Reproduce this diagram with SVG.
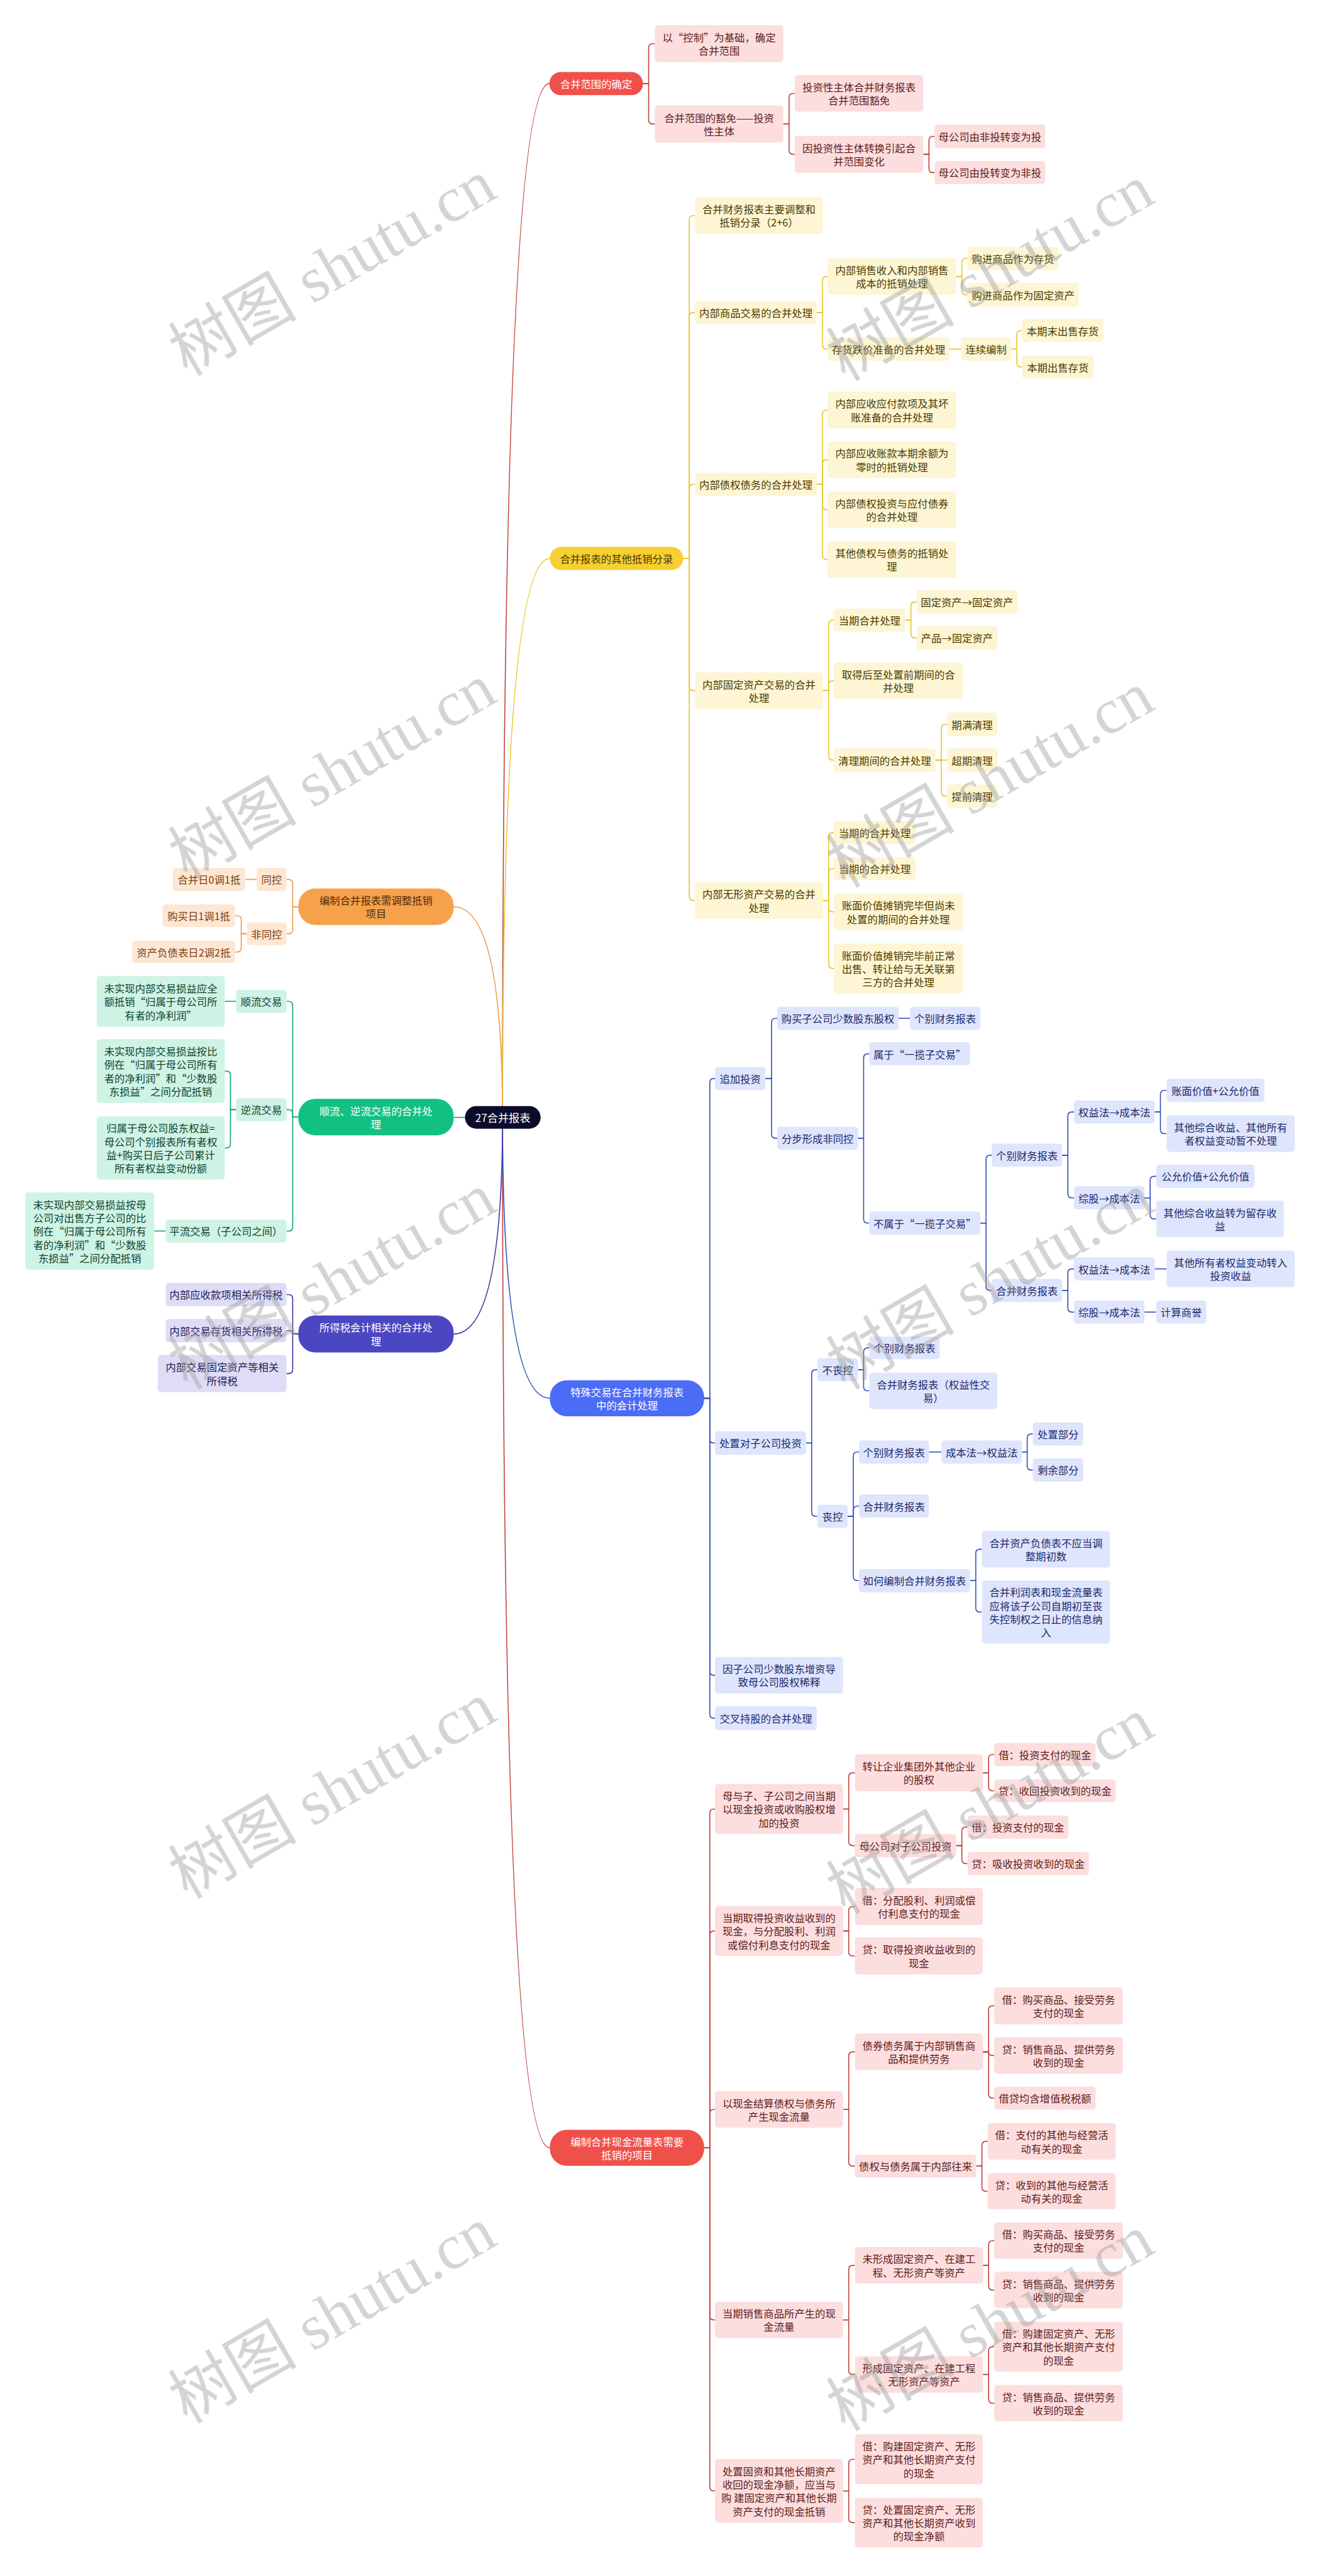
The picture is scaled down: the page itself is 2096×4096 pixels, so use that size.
<svg xmlns="http://www.w3.org/2000/svg" width="2096" height="4096" viewBox="0 0 2096 4096">
<defs>
<style>
text{font-family:"Noto Sans CJK SC","Noto Sans",sans-serif;font-size:20px;text-anchor:middle;dominant-baseline:central}
.c{fill:none;stroke-width:2}
.lr{stroke:#c2413a}.ly{stroke:#e8c62a}.lb{stroke:#3451bb}.lo{stroke:#f09a45}.lg{stroke:#12a873}.li{stroke:#3c37a3}
.rm{fill:#f0504a}.rc{fill:#fcdede}.rt{fill:#5e1c1c}
.ym{fill:#f6d032}.yc{fill:#fdf5d3}.yt{fill:#4a3a00}
.bm{fill:#4b6cf5}.bc{fill:#dfe5fc}.bt{fill:#1b2a6b}
.om{fill:#f6a24c}.oc{fill:#fde7d4}.ot{fill:#7d3f10}
.gm{fill:#12c081}.gc{fill:#cff3e4}.gt{fill:#0e4330}
.im{fill:#4b46c1}.ic{fill:#dedcf6}.it{fill:#1e1b55}
.w{fill:#ffffff}
.wm{opacity:.45}
.wm text{font-family:"Liberation Serif","Noto Sans CJK SC",serif;font-size:125px;fill:#a0a0a0}
</style>
</defs>
<rect width="2096" height="4096" fill="#ffffff"/>
<g transform="scale(0.818)">
<g id="connectors">
<g class="c lr">
<path d="M977 2172 Q977 162.5 1068 162.5"/>
<path d="M1250 162.5 H1261 V93 Q1261 85 1269 85 H1273"/>
<path d="M1250 162.5 H1261 V233 Q1261 241 1269 241 H1273"/>
<path d="M1523 241 H1534 V189.5 Q1534 181.5 1542 181.5 H1545"/>
<path d="M1523 241 H1534 V292 Q1534 300 1542 300 H1545"/>
<path d="M1795 300 H1806 V273 Q1806 265 1814 265 H1817"/>
<path d="M1795 300 H1806 V327.5 Q1806 335.5 1814 335.5 H1817"/>
<path d="M977 2172 Q977 4175 1069 4175"/>
<path d="M1369 4175 H1380 V3524.5 Q1380 3516.5 1388 3516.5 H1390"/>
<path d="M1369 4175 H1380 V3761.5 Q1380 3753.5 1388 3753.5 H1390"/>
<path d="M1369 4175 H1380 V4108.5 Q1380 4100.5 1388 4100.5 H1390"/>
<path d="M1369 4175 H1380 V4501.5 Q1380 4509.5 1388 4509.5 H1390"/>
<path d="M1369 4175 H1380 V4834 Q1380 4842 1388 4842 H1390"/>
<path d="M1639 3516.5 H1650 V3454 Q1650 3446 1658 3446 H1662"/>
<path d="M1639 3516.5 H1650 V3579.5 Q1650 3587.5 1658 3587.5 H1662"/>
<path d="M1911 3446 H1922 V3418.5 Q1922 3410.5 1930 3410.5 H1933"/>
<path d="M1911 3446 H1922 V3473 Q1922 3481 1930 3481 H1933"/>
<path d="M1859 3587.5 H1870 V3559.5 Q1870 3551.5 1878 3551.5 H1881"/>
<path d="M1859 3587.5 H1870 V3614.5 Q1870 3622.5 1878 3622.5 H1881"/>
<path d="M1639 3753.5 H1650 V3714 Q1650 3706 1658 3706 H1662"/>
<path d="M1639 3753.5 H1650 V3794 Q1650 3802 1658 3802 H1662"/>
<path d="M1639 4100.5 H1650 V3996.5 Q1650 3988.5 1658 3988.5 H1662"/>
<path d="M1639 4100.5 H1650 V4202.5 Q1650 4210.5 1658 4210.5 H1662"/>
<path d="M1911 3988.5 H1922 V3907 Q1922 3899 1930 3899 H1933"/>
<path d="M1911 3988.5 H1922 Q1922 3995.5 1929 3995.5 H1933"/>
<path d="M1911 3988.5 H1922 V4070.5 Q1922 4078.5 1930 4078.5 H1933"/>
<path d="M1898 4210.5 H1909 V4170.5 Q1909 4162.5 1917 4162.5 H1920"/>
<path d="M1898 4210.5 H1909 V4251.5 Q1909 4259.5 1917 4259.5 H1920"/>
<path d="M1639 4509.5 H1650 V4411.5 Q1650 4403.5 1658 4403.5 H1662"/>
<path d="M1639 4509.5 H1650 V4607.5 Q1650 4615.5 1658 4615.5 H1662"/>
<path d="M1911 4403.5 H1922 V4363.5 Q1922 4355.5 1930 4355.5 H1933"/>
<path d="M1911 4403.5 H1922 V4443.5 Q1922 4451.5 1930 4451.5 H1933"/>
<path d="M1911 4615.5 H1922 V4569.5 Q1922 4561.5 1930 4561.5 H1933"/>
<path d="M1911 4615.5 H1922 V4663.5 Q1922 4671.5 1930 4671.5 H1933"/>
<path d="M1639 4842 H1650 V4788.5 Q1650 4780.5 1658 4780.5 H1662"/>
<path d="M1639 4842 H1650 V4895.5 Q1650 4903.5 1658 4903.5 H1662"/>
</g>
<g class="c ly">
<path d="M977 2172 Q977 1085.5 1069 1085.5"/>
<path d="M1328 1085.5 H1340 V427 Q1340 419 1348 419 H1351"/>
<path d="M1328 1085.5 H1340 V615.5 Q1340 607.5 1348 607.5 H1351"/>
<path d="M1328 1085.5 H1340 V949.5 Q1340 941.5 1348 941.5 H1351"/>
<path d="M1328 1085.5 H1340 V1334.5 Q1340 1342.5 1348 1342.5 H1351"/>
<path d="M1328 1085.5 H1340 V1742.5 Q1340 1750.5 1348 1750.5 H1351"/>
<path d="M1588 607.5 H1599 V545.5 Q1599 537.5 1607 537.5 H1609"/>
<path d="M1588 607.5 H1599 V670.5 Q1599 678.5 1607 678.5 H1609"/>
<path d="M1859 537.5 H1870 V510.5 Q1870 502.5 1878 502.5 H1881"/>
<path d="M1859 537.5 H1870 V565 Q1870 573 1878 573 H1881"/>
<path d="M1846 678.5 H1868"/>
<path d="M1966 678.5 H1977 V650.5 Q1977 642.5 1985 642.5 H1987"/>
<path d="M1966 678.5 H1977 V705.5 Q1977 713.5 1985 713.5 H1987"/>
<path d="M1588 941.5 H1599 V805 Q1599 797 1607 797 H1609"/>
<path d="M1588 941.5 H1599 V901.5 Q1599 893.5 1607 893.5 H1609"/>
<path d="M1588 941.5 H1599 V982.5 Q1599 990.5 1607 990.5 H1609"/>
<path d="M1588 941.5 H1599 V1079.5 Q1599 1087.5 1607 1087.5 H1609"/>
<path d="M1600 1342.5 H1611 V1213.5 Q1611 1205.5 1619 1205.5 H1621"/>
<path d="M1600 1342.5 H1611 V1331.5 Q1611 1323.5 1619 1323.5 H1621"/>
<path d="M1600 1342.5 H1611 V1469.5 Q1611 1477.5 1619 1477.5 H1621"/>
<path d="M1760 1205.5 H1771 V1178 Q1771 1170 1779 1170 H1782"/>
<path d="M1760 1205.5 H1771 V1232 Q1771 1240 1779 1240 H1782"/>
<path d="M1819 1477.5 H1830 V1416 Q1830 1408 1838 1408 H1841"/>
<path d="M1819 1477.5 H1841"/>
<path d="M1819 1477.5 H1830 V1539.5 Q1830 1547.5 1838 1547.5 H1841"/>
<path d="M1600 1750.5 H1611 V1626.5 Q1611 1618.5 1619 1618.5 H1621"/>
<path d="M1600 1750.5 H1611 V1696.5 Q1611 1688.5 1619 1688.5 H1621"/>
<path d="M1600 1750.5 H1611 V1764.5 Q1611 1772.5 1619 1772.5 H1621"/>
<path d="M1600 1750.5 H1611 V1874.5 Q1611 1882.5 1619 1882.5 H1621"/>
</g>
<g class="c lb">
<path d="M977 2172 Q977 2718 1069 2718"/>
<path d="M1369 2718 H1380 V2104.5 Q1380 2096.5 1388 2096.5 H1390"/>
<path d="M1369 2718 H1380 V2797 Q1380 2805 1388 2805 H1390"/>
<path d="M1369 2718 H1380 V3248.5 Q1380 3256.5 1388 3256.5 H1390"/>
<path d="M1369 2718 H1380 V3332 Q1380 3340 1388 3340 H1390"/>
<path d="M1488 2096.5 H1500 V1987.5 Q1500 1979.5 1508 1979.5 H1511"/>
<path d="M1488 2096.5 H1500 V2204.5 Q1500 2212.5 1508 2212.5 H1511"/>
<path d="M1747 1979.5 H1769"/>
<path d="M1668 2212.5 H1679 V2056.5 Q1679 2048.5 1687 2048.5 H1690"/>
<path d="M1668 2212.5 H1679 V2369.5 Q1679 2377.5 1687 2377.5 H1690"/>
<path d="M1906 2377.5 H1917 V2253.5 Q1917 2245.5 1925 2245.5 H1928"/>
<path d="M1906 2377.5 H1917 V2500.5 Q1917 2508.5 1925 2508.5 H1928"/>
<path d="M2065 2245.5 H2076 V2169.5 Q2076 2161.5 2084 2161.5 H2088"/>
<path d="M2065 2245.5 H2076 V2320.5 Q2076 2328.5 2084 2328.5 H2088"/>
<path d="M2245 2161.5 H2256 V2127.5 Q2256 2119.5 2264 2119.5 H2268"/>
<path d="M2245 2161.5 H2256 V2195.5 Q2256 2203.5 2264 2203.5 H2268"/>
<path d="M2225 2328.5 H2236 V2294.5 Q2236 2286.5 2244 2286.5 H2248"/>
<path d="M2225 2328.5 H2236 V2361.5 Q2236 2369.5 2244 2369.5 H2248"/>
<path d="M2065 2508.5 H2076 V2474.5 Q2076 2466.5 2084 2466.5 H2088"/>
<path d="M2065 2508.5 H2076 V2542.5 Q2076 2550.5 2084 2550.5 H2088"/>
<path d="M2245 2466.5 H2268"/>
<path d="M2225 2550.5 H2248"/>
<path d="M1567 2805 H1578 V2670.5 Q1578 2662.5 1586 2662.5 H1589"/>
<path d="M1567 2805 H1578 V2939.5 Q1578 2947.5 1586 2947.5 H1589"/>
<path d="M1668 2662.5 H1679 V2628 Q1679 2620 1687 2620 H1690"/>
<path d="M1668 2662.5 H1679 V2695.5 Q1679 2703.5 1687 2703.5 H1690"/>
<path d="M1648 2947.5 H1659 V2830.5 Q1659 2822.5 1667 2822.5 H1670"/>
<path d="M1648 2947.5 H1659 V2935.5 Q1659 2927.5 1667 2927.5 H1670"/>
<path d="M1648 2947.5 H1659 V3064.5 Q1659 3072.5 1667 3072.5 H1670"/>
<path d="M1806 2822.5 H1830"/>
<path d="M1987 2822.5 H1997 V2795.5 Q1997 2787.5 2005 2787.5 H2008"/>
<path d="M1987 2822.5 H1997 V2849.5 Q1997 2857.5 2005 2857.5 H2008"/>
<path d="M1886 3072.5 H1897 V3019.5 Q1897 3011.5 1905 3011.5 H1909"/>
<path d="M1886 3072.5 H1897 V3125.5 Q1897 3133.5 1905 3133.5 H1909"/>
</g>
<g class="c lo">
<path d="M977 2172 Q977 1762.5 882 1762.5"/>
<path d="M580 1762.5 H569 V1717.5 Q569 1709.5 561 1709.5 H557"/>
<path d="M580 1762.5 H569 V1807 Q569 1815 561 1815 H557"/>
<path d="M499 1709.5 H477"/>
<path d="M480 1815 H469 V1788 Q469 1780 461 1780 H457"/>
<path d="M480 1815 H469 V1842.5 Q469 1850.5 461 1850.5 H457"/>
</g>
<g class="c lg">
<path d="M904 2172 H882"/>
<path d="M580 2171.5 H569 V1954.5 Q569 1946.5 561 1946.5 H557"/>
<path d="M580 2171.5 H569 V2165 Q569 2157 561 2157 H557"/>
<path d="M580 2171.5 H569 V2385 Q569 2393 561 2393 H557"/>
<path d="M459 1946.5 H437"/>
<path d="M459 2157 H448 V2090 Q448 2082 440 2082 H437"/>
<path d="M459 2157 H448 V2223.5 Q448 2231.5 440 2231.5 H437"/>
<path d="M322 2393 H300"/>
</g>
<g class="c li">
<path d="M977 2172 Q977 2593 882 2593"/>
<path d="M580 2593 H569 V2524.5 Q569 2516.5 561 2516.5 H557"/>
<path d="M580 2593 H569 Q569 2586.5 562.5 2586.5 H557"/>
<path d="M580 2593 H569 V2662 Q569 2670 561 2670 H557"/>
</g>
</g>

<g id="root"><rect x="904" y="2150" width="147" height="44" rx="22" fill="#0b0b2b"/><text x="977.5" y="2172" class="w" style="font-size:21px">27合并报表</text></g>

<g id="a0"><rect x="1068" y="140" width="182" height="45" rx="22" class="rm"/><text x="1159" y="162.5" class="w">合并范围的确定</text></g>
<g id="a1"><rect x="1273" y="49" width="250" height="72" rx="6" class="rc"/><text x="1398" y="72" class="rt"><tspan x="1398">以“控制”为基础，确定</tspan><tspan x="1398" dy="26">合并范围</tspan></text></g>
<g id="a2"><rect x="1273" y="205" width="250" height="72" rx="6" class="rc"/><text x="1398" y="228" class="rt"><tspan x="1398">合并范围的豁免——投资</tspan><tspan x="1398" dy="26">性主体</tspan></text></g>
<g id="a21"><rect x="1545" y="146" width="250" height="71" rx="6" class="rc"/><text x="1670" y="168.5" class="rt"><tspan x="1670">投资性主体合并财务报表</tspan><tspan x="1670" dy="26">合并范围豁免</tspan></text></g>
<g id="a22"><rect x="1545" y="264" width="250" height="72" rx="6" class="rc"/><text x="1670" y="287" class="rt"><tspan x="1670">因投资性主体转换引起合</tspan><tspan x="1670" dy="26">并范围变化</tspan></text></g>
<g id="a221"><rect x="1817" y="242" width="215" height="46" rx="6" class="rc"/><text x="1924.5" y="265" class="rt">母公司由非投转变为投</text></g>
<g id="a222"><rect x="1817" y="313" width="215" height="45" rx="6" class="rc"/><text x="1924.5" y="335.5" class="rt">母公司由投转变为非投</text></g>

<g id="b0"><rect x="1069" y="1063" width="259" height="45" rx="22" class="ym"/><text x="1198.5" y="1085.5" class="yt">合并报表的其他抵销分录</text></g>
<g id="b1"><rect x="1351" y="383" width="249" height="72" rx="6" class="yc"/><text x="1475.5" y="406" class="yt"><tspan x="1475.5">合并财务报表主要调整和</tspan><tspan x="1475.5" dy="26">抵销分录（2+6）</tspan></text></g>
<g id="b2"><rect x="1351" y="585" width="237" height="45" rx="6" class="yc"/><text x="1469.5" y="607.5" class="yt">内部商品交易的合并处理</text></g>
<g id="b21"><rect x="1609" y="502" width="250" height="71" rx="6" class="yc"/><text x="1734" y="524.5" class="yt"><tspan x="1734">内部销售收入和内部销售</tspan><tspan x="1734" dy="26">成本的抵销处理</tspan></text></g>
<g id="b211"><rect x="1881" y="480" width="177" height="45" rx="6" class="yc"/><text x="1969.5" y="502.5" class="yt">购进商品作为存货</text></g>
<g id="b212"><rect x="1881" y="550" width="216" height="46" rx="6" class="yc"/><text x="1989" y="573" class="yt">购进商品作为固定资产</text></g>
<g id="b22"><rect x="1609" y="656" width="237" height="45" rx="6" class="yc"/><text x="1727.5" y="678.5" class="yt">存货跌价准备的合并处理</text></g>
<g id="b221"><rect x="1868" y="656" width="98" height="45" rx="6" class="yc"/><text x="1917" y="678.5" class="yt">连续编制</text></g>
<g id="b2211"><rect x="1987" y="620" width="158" height="45" rx="6" class="yc"/><text x="2066" y="642.5" class="yt">本期末出售存货</text></g>
<g id="b2212"><rect x="1987" y="691" width="139" height="45" rx="6" class="yc"/><text x="2056.5" y="713.5" class="yt">本期出售存货</text></g>
<g id="b3"><rect x="1351" y="919" width="237" height="45" rx="6" class="yc"/><text x="1469.5" y="941.5" class="yt">内部债权债务的合并处理</text></g>
<g id="b31"><rect x="1609" y="761" width="250" height="72" rx="6" class="yc"/><text x="1734" y="784" class="yt"><tspan x="1734">内部应收应付款项及其坏</tspan><tspan x="1734" dy="26">账准备的合并处理</tspan></text></g>
<g id="b32"><rect x="1609" y="858" width="250" height="71" rx="6" class="yc"/><text x="1734" y="880.5" class="yt"><tspan x="1734">内部应收账款本期余额为</tspan><tspan x="1734" dy="26">零时的抵销处理</tspan></text></g>
<g id="b33"><rect x="1609" y="955" width="250" height="71" rx="6" class="yc"/><text x="1734" y="977.5" class="yt"><tspan x="1734">内部债权投资与应付债券</tspan><tspan x="1734" dy="26">的合并处理</tspan></text></g>
<g id="b34"><rect x="1609" y="1052" width="250" height="71" rx="6" class="yc"/><text x="1734" y="1074.5" class="yt"><tspan x="1734">其他债权与债务的抵销处</tspan><tspan x="1734" dy="26">理</tspan></text></g>
<g id="b4"><rect x="1351" y="1307" width="249" height="71" rx="6" class="yc"/><text x="1475.5" y="1329.5" class="yt"><tspan x="1475.5">内部固定资产交易的合并</tspan><tspan x="1475.5" dy="26">处理</tspan></text></g>
<g id="b41"><rect x="1621" y="1183" width="139" height="45" rx="6" class="yc"/><text x="1690.5" y="1205.5" class="yt">当期合并处理</text></g>
<g id="b411"><rect x="1782" y="1147" width="196" height="46" rx="6" class="yc"/><text x="1880" y="1170" class="yt">固定资产→固定资产</text></g>
<g id="b412"><rect x="1782" y="1217" width="157" height="46" rx="6" class="yc"/><text x="1860.5" y="1240" class="yt">产品→固定资产</text></g>
<g id="b42"><rect x="1621" y="1288" width="251" height="71" rx="6" class="yc"/><text x="1746.5" y="1310.5" class="yt"><tspan x="1746.5">取得后至处置前期间的合</tspan><tspan x="1746.5" dy="26">并处理</tspan></text></g>
<g id="b43"><rect x="1621" y="1455" width="198" height="45" rx="6" class="yc"/><text x="1720" y="1477.5" class="yt">清理期间的合并处理</text></g>
<g id="b431"><rect x="1841" y="1385" width="98" height="46" rx="6" class="yc"/><text x="1890" y="1408" class="yt">期满清理</text></g>
<g id="b432"><rect x="1841" y="1455" width="98" height="45" rx="6" class="yc"/><text x="1890" y="1477.5" class="yt">超期清理</text></g>
<g id="b433"><rect x="1841" y="1525" width="98" height="45" rx="6" class="yc"/><text x="1890" y="1547.5" class="yt">提前清理</text></g>
<g id="b5"><rect x="1351" y="1715" width="249" height="71" rx="6" class="yc"/><text x="1475.5" y="1737.5" class="yt"><tspan x="1475.5">内部无形资产交易的合并</tspan><tspan x="1475.5" dy="26">处理</tspan></text></g>
<g id="b51"><rect x="1621" y="1596" width="159" height="45" rx="6" class="yc"/><text x="1700.5" y="1618.5" class="yt">当期的合并处理</text></g>
<g id="b52"><rect x="1621" y="1666" width="159" height="45" rx="6" class="yc"/><text x="1700.5" y="1688.5" class="yt">当期的合并处理</text></g>
<g id="b53"><rect x="1621" y="1737" width="251" height="71" rx="6" class="yc"/><text x="1746.5" y="1759.5" class="yt"><tspan x="1746.5">账面价值摊销完毕但尚未</tspan><tspan x="1746.5" dy="26">处置的期间的合并处理</tspan></text></g>
<g id="b54"><rect x="1621" y="1834" width="251" height="97" rx="6" class="yc"/><text x="1746.5" y="1856.5" class="yt"><tspan x="1746.5">账面价值摊销完毕前正常</tspan><tspan x="1746.5" dy="26">出售、转让给与无关联第</tspan><tspan x="1746.5" dy="26">三方的合并处理</tspan></text></g>

<g id="c0"><rect x="1069" y="2683" width="300" height="70" rx="33" class="bm"/><text x="1219" y="2705" class="w"><tspan x="1219">特殊交易在合并财务报表</tspan><tspan x="1219" dy="26">中的会计处理</tspan></text></g>
<g id="c1"><rect x="1390" y="2074" width="98" height="45" rx="6" class="bc"/><text x="1439" y="2096.5" class="bt">追加投资</text></g>
<g id="c11"><rect x="1511" y="1957" width="236" height="45" rx="6" class="bc"/><text x="1629" y="1979.5" class="bt">购买子公司少数股东股权</text></g>
<g id="c111"><rect x="1769" y="1957" width="137" height="45" rx="6" class="bc"/><text x="1837.5" y="1979.5" class="bt">个别财务报表</text></g>
<g id="c12"><rect x="1511" y="2190" width="157" height="45" rx="6" class="bc"/><text x="1589.5" y="2212.5" class="bt">分步形成非同控</text></g>
<g id="c121"><rect x="1690" y="2026" width="196" height="45" rx="6" class="bc"/><text x="1788" y="2048.5" class="bt">属于“一揽子交易”</text></g>
<g id="c122"><rect x="1690" y="2355" width="216" height="45" rx="6" class="bc"/><text x="1798" y="2377.5" class="bt">不属于“一揽子交易”</text></g>
<g id="c1221"><rect x="1928" y="2223" width="137" height="45" rx="6" class="bc"/><text x="1996.5" y="2245.5" class="bt">个别财务报表</text></g>
<g id="c12211"><rect x="2088" y="2139" width="157" height="45" rx="6" class="bc"/><text x="2166.5" y="2161.5" class="bt">权益法→成本法</text></g>
<g id="c122111"><rect x="2268" y="2097" width="190" height="45" rx="6" class="bc"/><text x="2363" y="2119.5" class="bt">账面价值+公允价值</text></g>
<g id="c122112"><rect x="2268" y="2168" width="249" height="71" rx="6" class="bc"/><text x="2392.5" y="2190.5" class="bt"><tspan x="2392.5">其他综合收益、其他所有</tspan><tspan x="2392.5" dy="26">者权益变动暂不处理</tspan></text></g>
<g id="c12212"><rect x="2088" y="2306" width="137" height="45" rx="6" class="bc"/><text x="2156.5" y="2328.5" class="bt">综股→成本法</text></g>
<g id="c122121"><rect x="2248" y="2264" width="191" height="45" rx="6" class="bc"/><text x="2343.5" y="2286.5" class="bt">公允价值+公允价值</text></g>
<g id="c122122"><rect x="2248" y="2334" width="248" height="71" rx="6" class="bc"/><text x="2372" y="2356.5" class="bt"><tspan x="2372">其他综合收益转为留存收</tspan><tspan x="2372" dy="26">益</tspan></text></g>
<g id="c1222"><rect x="1928" y="2486" width="137" height="45" rx="6" class="bc"/><text x="1996.5" y="2508.5" class="bt">合并财务报表</text></g>
<g id="c12221"><rect x="2088" y="2444" width="157" height="45" rx="6" class="bc"/><text x="2166.5" y="2466.5" class="bt">权益法→成本法</text></g>
<g id="c122211"><rect x="2268" y="2431" width="249" height="71" rx="6" class="bc"/><text x="2392.5" y="2453.5" class="bt"><tspan x="2392.5">其他所有者权益变动转入</tspan><tspan x="2392.5" dy="26">投资收益</tspan></text></g>
<g id="c12222"><rect x="2088" y="2528" width="137" height="45" rx="6" class="bc"/><text x="2156.5" y="2550.5" class="bt">综股→成本法</text></g>
<g id="c122221"><rect x="2248" y="2528" width="97" height="45" rx="6" class="bc"/><text x="2296.5" y="2550.5" class="bt">计算商誉</text></g>
<g id="c2"><rect x="1390" y="2782" width="177" height="46" rx="6" class="bc"/><text x="1478.5" y="2805" class="bt">处置对子公司投资</text></g>
<g id="c21"><rect x="1589" y="2640" width="79" height="45" rx="6" class="bc"/><text x="1628.5" y="2662.5" class="bt">不丧控</text></g>
<g id="c211"><rect x="1690" y="2598" width="137" height="44" rx="6" class="bc"/><text x="1758.5" y="2620" class="bt">个别财务报表</text></g>
<g id="c212"><rect x="1690" y="2668" width="249" height="71" rx="6" class="bc"/><text x="1814.5" y="2690.5" class="bt"><tspan x="1814.5">合并财务报表（权益性交</tspan><tspan x="1814.5" dy="26">易）</tspan></text></g>
<g id="c22"><rect x="1589" y="2925" width="59" height="45" rx="6" class="bc"/><text x="1618.5" y="2947.5" class="bt">丧控</text></g>
<g id="c221"><rect x="1670" y="2800" width="136" height="45" rx="6" class="bc"/><text x="1738" y="2822.5" class="bt">个别财务报表</text></g>
<g id="c2211"><rect x="1830" y="2800" width="157" height="45" rx="6" class="bc"/><text x="1908.5" y="2822.5" class="bt">成本法→权益法</text></g>
<g id="c22111"><rect x="2008" y="2765" width="98" height="45" rx="6" class="bc"/><text x="2057" y="2787.5" class="bt">处置部分</text></g>
<g id="c22112"><rect x="2008" y="2835" width="98" height="45" rx="6" class="bc"/><text x="2057" y="2857.5" class="bt">剩余部分</text></g>
<g id="c222"><rect x="1670" y="2905" width="136" height="45" rx="6" class="bc"/><text x="1738" y="2927.5" class="bt">合并财务报表</text></g>
<g id="c223"><rect x="1670" y="3050" width="216" height="45" rx="6" class="bc"/><text x="1778" y="3072.5" class="bt">如何编制合并财务报表</text></g>
<g id="c2231"><rect x="1909" y="2976" width="249" height="71" rx="6" class="bc"/><text x="2033.5" y="2998.5" class="bt"><tspan x="2033.5">合并资产负债表不应当调</tspan><tspan x="2033.5" dy="26">整期初数</tspan></text></g>
<g id="c2232"><rect x="1909" y="3072" width="249" height="123" rx="6" class="bc"/><text x="2033.5" y="3094.5" class="bt"><tspan x="2033.5">合并利润表和现金流量表</tspan><tspan x="2033.5" dy="26">应将该子公司自期初至丧</tspan><tspan x="2033.5" dy="26">失控制权之日止的信息纳</tspan><tspan x="2033.5" dy="26">入</tspan></text></g>
<g id="c3"><rect x="1390" y="3221" width="249" height="71" rx="6" class="bc"/><text x="1514.5" y="3243.5" class="bt"><tspan x="1514.5">因子公司少数股东增资导</tspan><tspan x="1514.5" dy="26">致母公司股权稀释</tspan></text></g>
<g id="c4"><rect x="1390" y="3317" width="198" height="46" rx="6" class="bc"/><text x="1489" y="3340" class="bt">交叉持股的合并处理</text></g>

<g id="d0"><rect x="1069" y="4140" width="300" height="70" rx="33" class="rm"/><text x="1219" y="4162" class="w"><tspan x="1219">编制合并现金流量表需要</tspan><tspan x="1219" dy="26">抵销的项目</tspan></text></g>
<g id="d1"><rect x="1390" y="3468" width="249" height="97" rx="6" class="rc"/><text x="1514.5" y="3490.5" class="rt"><tspan x="1514.5">母与子、子公司之间当期</tspan><tspan x="1514.5" dy="26">以现金投资或收购股权增</tspan><tspan x="1514.5" dy="26">加的投资</tspan></text></g>
<g id="d11"><rect x="1662" y="3410" width="249" height="72" rx="6" class="rc"/><text x="1786.5" y="3433" class="rt"><tspan x="1786.5">转让企业集团外其他企业</tspan><tspan x="1786.5" dy="26">的股权</tspan></text></g>
<g id="d111"><rect x="1933" y="3388" width="197" height="45" rx="6" class="rc"/><text x="2031.5" y="3410.5" class="rt">借：投资支付的现金</text></g>
<g id="d112"><rect x="1933" y="3459" width="236" height="44" rx="6" class="rc"/><text x="2051" y="3481" class="rt">贷：收回投资收到的现金</text></g>
<g id="d12"><rect x="1662" y="3565" width="197" height="45" rx="6" class="rc"/><text x="1760.5" y="3587.5" class="rt">母公司对子公司投资</text></g>
<g id="d121"><rect x="1881" y="3529" width="196" height="45" rx="6" class="rc"/><text x="1979" y="3551.5" class="rt">借：投资支付的现金</text></g>
<g id="d122"><rect x="1881" y="3600" width="236" height="45" rx="6" class="rc"/><text x="1999" y="3622.5" class="rt">贷：吸收投资收到的现金</text></g>
<g id="d2"><rect x="1390" y="3705" width="249" height="97" rx="6" class="rc"/><text x="1514.5" y="3727.5" class="rt"><tspan x="1514.5">当期取得投资收益收到的</tspan><tspan x="1514.5" dy="26">现金，与分配股利、利润</tspan><tspan x="1514.5" dy="26">或偿付利息支付的现金</tspan></text></g>
<g id="d21"><rect x="1662" y="3670" width="249" height="72" rx="6" class="rc"/><text x="1786.5" y="3693" class="rt"><tspan x="1786.5">借：分配股利、利润或偿</tspan><tspan x="1786.5" dy="26">付利息支付的现金</tspan></text></g>
<g id="d22"><rect x="1662" y="3766" width="249" height="72" rx="6" class="rc"/><text x="1786.5" y="3789" class="rt"><tspan x="1786.5">贷：取得投资收益收到的</tspan><tspan x="1786.5" dy="26">现金</tspan></text></g>
<g id="d3"><rect x="1390" y="4065" width="249" height="71" rx="6" class="rc"/><text x="1514.5" y="4087.5" class="rt"><tspan x="1514.5">以现金结算债权与债务所</tspan><tspan x="1514.5" dy="26">产生现金流量</tspan></text></g>
<g id="d31"><rect x="1662" y="3953" width="249" height="71" rx="6" class="rc"/><text x="1786.5" y="3975.5" class="rt"><tspan x="1786.5">债券债务属于内部销售商</tspan><tspan x="1786.5" dy="26">品和提供劳务</tspan></text></g>
<g id="d311"><rect x="1933" y="3863" width="250" height="72" rx="6" class="rc"/><text x="2058" y="3886" class="rt"><tspan x="2058">借：购买商品、接受劳务</tspan><tspan x="2058" dy="26">支付的现金</tspan></text></g>
<g id="d312"><rect x="1933" y="3960" width="250" height="71" rx="6" class="rc"/><text x="2058" y="3982.5" class="rt"><tspan x="2058">贷：销售商品、提供劳务</tspan><tspan x="2058" dy="26">收到的现金</tspan></text></g>
<g id="d313"><rect x="1933" y="4056" width="197" height="45" rx="6" class="rc"/><text x="2031.5" y="4078.5" class="rt">借贷均含增值税税额</text></g>
<g id="d32"><rect x="1662" y="4188" width="236" height="45" rx="6" class="rc"/><text x="1780" y="4210.5" class="rt">债权与债务属于内部往来</text></g>
<g id="d321"><rect x="1920" y="4127" width="249" height="71" rx="6" class="rc"/><text x="2044.5" y="4149.5" class="rt"><tspan x="2044.5">借：支付的其他与经营活</tspan><tspan x="2044.5" dy="26">动有关的现金</tspan></text></g>
<g id="d322"><rect x="1920" y="4224" width="249" height="71" rx="6" class="rc"/><text x="2044.5" y="4246.5" class="rt"><tspan x="2044.5">贷：收到的其他与经营活</tspan><tspan x="2044.5" dy="26">动有关的现金</tspan></text></g>
<g id="d4"><rect x="1390" y="4474" width="249" height="71" rx="6" class="rc"/><text x="1514.5" y="4496.5" class="rt"><tspan x="1514.5">当期销售商品所产生的现</tspan><tspan x="1514.5" dy="26">金流量</tspan></text></g>
<g id="d41"><rect x="1662" y="4368" width="249" height="71" rx="6" class="rc"/><text x="1786.5" y="4390.5" class="rt"><tspan x="1786.5">未形成固定资产、在建工</tspan><tspan x="1786.5" dy="26">程、无形资产等资产</tspan></text></g>
<g id="d411"><rect x="1933" y="4320" width="250" height="71" rx="6" class="rc"/><text x="2058" y="4342.5" class="rt"><tspan x="2058">借：购买商品、接受劳务</tspan><tspan x="2058" dy="26">支付的现金</tspan></text></g>
<g id="d412"><rect x="1933" y="4416" width="250" height="71" rx="6" class="rc"/><text x="2058" y="4438.5" class="rt"><tspan x="2058">贷：销售商品、提供劳务</tspan><tspan x="2058" dy="26">收到的现金</tspan></text></g>
<g id="d42"><rect x="1662" y="4580" width="249" height="71" rx="6" class="rc"/><text x="1786.5" y="4602.5" class="rt"><tspan x="1786.5">形成固定资产、在建工程</tspan><tspan x="1786.5" dy="26">、无形资产等资产</tspan></text></g>
<g id="d421"><rect x="1933" y="4513" width="250" height="97" rx="6" class="rc"/><text x="2058" y="4535.5" class="rt"><tspan x="2058">借：购建固定资产、无形</tspan><tspan x="2058" dy="26">资产和其他长期资产支付</tspan><tspan x="2058" dy="26">的现金</tspan></text></g>
<g id="d422"><rect x="1933" y="4636" width="250" height="71" rx="6" class="rc"/><text x="2058" y="4658.5" class="rt"><tspan x="2058">贷：销售商品、提供劳务</tspan><tspan x="2058" dy="26">收到的现金</tspan></text></g>
<g id="d5"><rect x="1390" y="4780" width="249" height="124" rx="6" class="rc"/><text x="1514.5" y="4803" class="rt"><tspan x="1514.5">处置固资和其他长期资产</tspan><tspan x="1514.5" dy="26">收回的现金净额，应当与</tspan><tspan x="1514.5" dy="26">购 建固定资产和其他长期</tspan><tspan x="1514.5" dy="26">资产支付的现金抵销</tspan></text></g>
<g id="d51"><rect x="1662" y="4732" width="249" height="97" rx="6" class="rc"/><text x="1786.5" y="4754.5" class="rt"><tspan x="1786.5">借：购建固定资产、无形</tspan><tspan x="1786.5" dy="26">资产和其他长期资产支付</tspan><tspan x="1786.5" dy="26">的现金</tspan></text></g>
<g id="d52"><rect x="1662" y="4855" width="249" height="97" rx="6" class="rc"/><text x="1786.5" y="4877.5" class="rt"><tspan x="1786.5">贷：处置固定资产、无形</tspan><tspan x="1786.5" dy="26">资产和其他长期资产收到</tspan><tspan x="1786.5" dy="26">的现金净额</tspan></text></g>

<g id="e0"><rect x="580" y="1727" width="302" height="71" rx="33" class="om"/><text x="731" y="1749.5" style="fill:#4d2a0a"><tspan x="731">编制合并报表需调整抵销</tspan><tspan x="731" dy="26">项目</tspan></text></g>
<g id="e1"><rect x="499" y="1687" width="58" height="45" rx="6" class="oc"/><text x="528" y="1709.5" class="ot">同控</text></g>
<g id="e11"><rect x="336" y="1687" width="141" height="45" rx="6" class="oc"/><text x="406.5" y="1709.5" class="ot">合并日0调1抵</text></g>
<g id="e2"><rect x="480" y="1793" width="77" height="44" rx="6" class="oc"/><text x="518.5" y="1815" class="ot">非同控</text></g>
<g id="e21"><rect x="316" y="1758" width="141" height="44" rx="6" class="oc"/><text x="386.5" y="1780" class="ot">购买日1调1抵</text></g>
<g id="e22"><rect x="257" y="1829" width="200" height="43" rx="6" class="oc"/><text x="357" y="1850.5" class="ot">资产负债表日2调2抵</text></g>

<g id="f0"><rect x="580" y="2136" width="302" height="71" rx="33" class="gm"/><text x="731" y="2158.5" class="w"><tspan x="731">顺流、逆流交易的合并处</tspan><tspan x="731" dy="26">理</tspan></text></g>
<g id="f1"><rect x="459" y="1924" width="98" height="45" rx="6" class="gc"/><text x="508" y="1946.5" class="gt">顺流交易</text></g>
<g id="f11"><rect x="188" y="1897" width="249" height="99" rx="6" class="gc"/><text x="312.5" y="1920.5" class="gt"><tspan x="312.5">未实现内部交易损益应全</tspan><tspan x="312.5" dy="26">额抵销“归属于母公司所</tspan><tspan x="312.5" dy="26">有者的净利润”</tspan></text></g>
<g id="f2"><rect x="459" y="2135" width="98" height="44" rx="6" class="gc"/><text x="508" y="2157" class="gt">逆流交易</text></g>
<g id="f21"><rect x="188" y="2020" width="249" height="124" rx="6" class="gc"/><text x="312.5" y="2043" class="gt"><tspan x="312.5">未实现内部交易损益按比</tspan><tspan x="312.5" dy="26">例在“归属于母公司所有</tspan><tspan x="312.5" dy="26">者的净利润”和“少数股</tspan><tspan x="312.5" dy="26">东损益”之间分配抵销</tspan></text></g>
<g id="f22"><rect x="188" y="2170" width="249" height="123" rx="6" class="gc"/><text x="312.5" y="2192.5" class="gt"><tspan x="312.5">归属于母公司股东权益=</tspan><tspan x="312.5" dy="26">母公司个别报表所有者权</tspan><tspan x="312.5" dy="26">益+购买日后子公司累计</tspan><tspan x="312.5" dy="26">所有者权益变动份额</tspan></text></g>
<g id="f3"><rect x="322" y="2371" width="235" height="44" rx="6" class="gc"/><text x="439.5" y="2393" class="gt">平流交易（子公司之间）</text></g>
<g id="f31"><rect x="49" y="2318" width="251" height="150" rx="6" class="gc"/><text x="174.5" y="2341" class="gt"><tspan x="174.5">未实现内部交易损益按母</tspan><tspan x="174.5" dy="26">公司对出售方子公司的比</tspan><tspan x="174.5" dy="26">例在“归属于母公司所有</tspan><tspan x="174.5" dy="26">者的净利润”和“少数股</tspan><tspan x="174.5" dy="26">东损益”之间分配抵销</tspan></text></g>

<g id="g0"><rect x="580" y="2557" width="302" height="72" rx="33" class="im"/><text x="731" y="2580" class="w"><tspan x="731">所得税会计相关的合并处</tspan><tspan x="731" dy="26">理</tspan></text></g>
<g id="g1"><rect x="322" y="2494" width="235" height="45" rx="6" class="ic"/><text x="439.5" y="2516.5" class="it">内部应收款项相关所得税</text></g>
<g id="g2"><rect x="322" y="2564" width="235" height="45" rx="6" class="ic"/><text x="439.5" y="2586.5" class="it">内部交易存货相关所得税</text></g>
<g id="g3"><rect x="307" y="2634" width="250" height="72" rx="6" class="ic"/><text x="432" y="2657" class="it"><tspan x="432">内部交易固定资产等相关</tspan><tspan x="432" dy="26">所得税</tspan></text></g>

<g id="watermark" class="wm">
<text x="646" y="520" transform="rotate(-30 646 520)">树图 shutu.cn</text>
<text x="1925" y="530" transform="rotate(-30 1925 530)">树图 shutu.cn</text>
<text x="646" y="1500" transform="rotate(-30 646 1500)">树图 shutu.cn</text>
<text x="1925" y="1515" transform="rotate(-30 1925 1515)">树图 shutu.cn</text>
<text x="646" y="2490" transform="rotate(-30 646 2490)">树图 shutu.cn</text>
<text x="1925" y="2490" transform="rotate(-30 1925 2490)">树图 shutu.cn</text>
<text x="646" y="3480" transform="rotate(-30 646 3480)">树图 shutu.cn</text>
<text x="1925" y="3510" transform="rotate(-30 1925 3510)">树图 shutu.cn</text>
<text x="646" y="4500" transform="rotate(-30 646 4500)">树图 shutu.cn</text>
<text x="1925" y="4515" transform="rotate(-30 1925 4515)">树图 shutu.cn</text>
</g>
</g>
</svg>
